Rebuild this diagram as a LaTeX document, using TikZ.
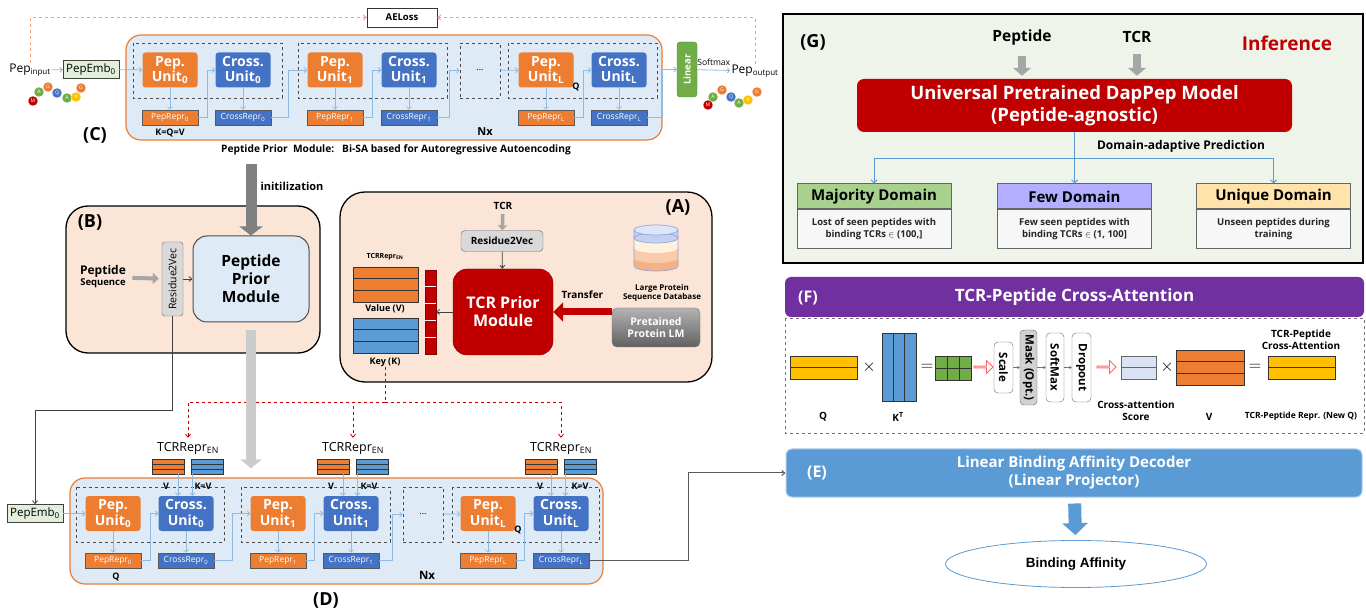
\documentclass[tikz,border=0pt]{standalone}
\usepackage{amsmath,amssymb}
\usepackage{graphicx}
\usepackage{fontspec}
\setmainfont{Open Sans}
\newfontfamily\arialfont{Liberation Sans}
\usetikzlibrary{arrows.meta,calc,positioning,shapes.arrows,shapes.geometric}
\newcommand{\fz}[2]{\fontsize{#1}{#2}\selectfont}
\newcommand{\mrows}[3][black!80]{\foreach \k in {1,...,#3}{\pgfmathsetmacro\fr{\k/(#3+1)}\draw[#1, line width=0.7pt] ($(#2.north west)!\fr!(#2.south west)$) -- ($(#2.north east)!\fr!(#2.south east)$);}}
\newcommand{\mcols}[3][black!80]{\foreach \k in {1,...,#3}{\pgfmathsetmacro\fr{\k/(#3+1)}\draw[#1, line width=0.7pt] ($(#2.north west)!\fr!(#2.north east)$) -- ($(#2.south west)!\fr!(#2.south east)$);}}
\definecolor{cOrange}{HTML}{ED7D31}
\definecolor{cBlue}{HTML}{4472C4}
\definecolor{cSky}{HTML}{5B9BD5}
\definecolor{cPale}{HTML}{DEEBF7}
\definecolor{cPeach}{HTML}{FBE5D6}
\definecolor{cFlow}{HTML}{8FBBE3}
\definecolor{cRed}{HTML}{C00000}
\definecolor{cGreen}{HTML}{70AD47}
\definecolor{cGold}{HTML}{FFC000}
\definecolor{cLeaf}{HTML}{E2EFDA}
\definecolor{cPurple}{HTML}{7030A0}
\definecolor{cLoss}{HTML}{EBA27E}
\definecolor{cGbg}{HTML}{EEF4EA}
\definecolor{cMaj}{HTML}{A9D18E}
\definecolor{cFew}{HTML}{B3AEFF}
\definecolor{cUniq}{HTML}{FFE3AA}
\definecolor{cScore}{HTML}{DAE3F3}
\definecolor{cLav}{HTML}{C5CFF3}
\definecolor{cLavD}{HTML}{8EA9DB}
\definecolor{cCream}{HTML}{FFF2DC}
\definecolor{cPch}{HTML}{F8CBAD}
\definecolor{cOr}{HTML}{F4B183}
\tikzset{
  unitbox/.style={rounded corners=3pt, minimum width=55pt, minimum height=35pt, inner sep=0pt, align=center, text=white, font=\fz{14}{15.5}\bfseries},
  pepunit/.style={unitbox, fill=cOrange},
  crossunit/.style={unitbox, fill=cBlue},
  repr/.style={minimum width=56pt, minimum height=15pt, inner sep=0pt, text=white, font=\fz{8.5}{9}, draw=black!65, line width=0.6pt},
  peprepr/.style={repr, fill=cOrange},
  crossrepr/.style={repr, fill=cBlue},
  grp/.style={draw=black!70, dashed, line width=0.6pt},
  dotbox/.style={grp, minimum width=40pt, minimum height=55pt, inner sep=0pt, font=\fz{9}{10}},
  trunk/.style={draw=cOrange, fill=cPale, line width=1.2pt, rounded corners=15pt, inner sep=0pt},
  abox/.style={draw=black, fill=cPeach, line width=1.3pt, rounded corners=22pt, inner sep=0pt},
  flow/.style={draw=cFlow, line width=0.8pt, -{Straight Barb[length=2.5pt,width=5pt]}},
  conn/.style={draw=black!75, line width=0.8pt, -{Straight Barb[length=3pt,width=5pt]}},
  loss/.style={draw=cLoss, dashed, line width=0.8pt, -{Straight Barb[length=3pt,width=5pt]}},
  rdash/.style={draw=cRed, dashed, line width=0.8pt},
  emb/.style={draw=black!75, fill=cLeaf, minimum width=56pt, minimum height=18pt, inner sep=0pt, font=\fz{11.5}{12}},
  bead/.style={circle, inner sep=0pt, minimum size=10pt, draw=white, line width=0.3pt, text=white, font=\fz{5}{5}},
  lbl/.style={font=\fz{9}{10}\bfseries, inner sep=1pt},
  panel/.style={font=\fz{18}{20}\bfseries, inner sep=0pt},
  mat/.style={draw=black!80, line width=0.7pt, inner sep=0pt, outer sep=0pt},
  smat/.style={mat, minimum width=32pt, minimum height=15pt},
  trep/.style={font=\fz{12.5}{13}, inner sep=1pt},
  grayarr/.style={line width=4pt, draw=black!35, -{Triangle[length=6pt,width=11pt]}},
  pbox/.style={draw=black!60, fill=white, rounded corners=4pt, inner sep=0pt, minimum width=19pt, font=\fz{11.5}{12}\bfseries},
  parr/.style={draw=black!55, line width=0.5pt, -{Straight Barb[length=2pt,width=3pt]}},
  hollow/.style={single arrow, draw=red!60, fill=white, line width=0.8pt, minimum height=19pt, minimum width=13pt, single arrow head extend=2.5pt, inner sep=0pt},
  dhead/.style={draw=black!60, line width=1pt, minimum width=154pt, minimum height=25pt, inner sep=0pt, font=\fz{15}{16}\bfseries},
  dbody/.style={draw=black!60, line width=1pt, fill=white!97!black, minimum width=154pt, minimum height=39pt, inner sep=0pt, align=center, font=\fz{9.5}{12}\bfseries, text=black!85},
  gflow/.style={draw=cSky, line width=1pt, -{Straight Barb[length=3pt,width=6pt]}}
}
\begin{document}
\begin{tikzpicture}[x=1pt,y=-1pt]
\useasboundingbox[fill=white] (0,0) rectangle (1366,609);

\node[trunk, minimum width=536pt, minimum height=105pt] (CBox) at (394,87.5) {};
\draw[grp] (133,43) rectangle (282,98);
\draw[grp] (298,43) rectangle (447,98);
\draw[grp] (508,43) rectangle (657,98);
\node[dotbox] (CDot) at (480,70.5) {...};
\node[pepunit] (CPU0) at (170,70) {Pep.\\Unit\textsubscript{0}};
\node[crossunit] (CCU0) at (243,70) {Cross.\\Unit\textsubscript{0}};
\node[pepunit] (CPU1) at (335,70) {Pep.\\Unit\textsubscript{1}};
\node[crossunit] (CCU1) at (409,70) {Cross.\\Unit\textsubscript{1}};
\node[pepunit] (CPUL) at (546,70) {Pep.\\Unit\textsubscript{L}};
\node[crossunit] (CCUL) at (619,70) {Cross.\\Unit\textsubscript{L}};
\node[peprepr] (CPR0) at (170,117.5) {PepRepr\textsubscript{0}};
\node[crossrepr] (CCR0) at (243,117.5) {CrossRepr\textsubscript{0}};
\node[peprepr] (CPR1) at (335,117.5) {PepRepr\textsubscript{1}};
\node[crossrepr] (CCR1) at (409,117.5) {CrossRepr\textsubscript{1}};
\node[peprepr] (CPRL) at (546,117.5) {PepRepr\textsubscript{L}};
\node[crossrepr] (CCRL) at (619,117.5) {CrossRepr\textsubscript{L}};
\node[lbl] (CKQV) at (170,133) {K=Q=V};
\node[lbl] (CQ) at (576,87) {Q};
\node[font=\fz{11}{12}\bfseries] (CNx) at (485,132) {Nx};
\node[panel] (CTag) at (95,135) {(C)};
\node[font=\fz{10.2}{12}\bfseries] (CCap) at (396,150) {Peptide Prior\ \ Module:\ \ \ Bi-SA based for Autoregressive Autoencoding};
\node[emb] (CEmb) at (91,69.5) {PepEmb\textsubscript{0}};
\node[font=\fz{12}{13}, inner sep=1pt] (CIn) at (30,70) {Pep\textsubscript{input}};
\node[bead, fill=cRed] (PI1) at (33,101) {M};
\node[bead, fill=cGreen] (PI2) at (39,92) {A};
\node[bead, fill=cOrange] (PI3) at (48,87) {G};
\node[bead, fill=cBlue] (PI4) at (57,93) {Q};
\node[bead, fill=cGreen] (PI5) at (67,98) {A};
\node[bead, fill=cGold] (PI6) at (76,97) {V};
\node[bead, fill=cOrange] (PI7) at (81,88) {G};
\node[draw=cGreen!80!black, fill=cGreen, rounded corners=3pt, minimum width=20pt, minimum height=55pt, inner sep=0pt, text=white, font=\fz{9.5}{10}\bfseries] (CLin) at (687,69.5) {\rotatebox{90}{Linear}};
\node[font=\fz{12}{13}, inner sep=1pt] (COut) at (755,71) {Pep\textsubscript{output}};
\node[bead, fill=cRed] (PO1) at (708,105) {M};
\node[bead, fill=cGreen] (PO2) at (713,97) {A};
\node[bead, fill=cOrange] (PO3) at (722,90) {G};
\node[bead, fill=cBlue] (PO4) at (731,97) {Q};
\node[bead, fill=cGreen] (PO5) at (739,103) {A};
\node[bead, fill=cGold] (PO6) at (748,100) {V};
\node[bead, fill=cOrange] (PO7) at (757,92) {G};
\node[draw=black!80, fill=white, minimum width=70pt, minimum height=19pt, inner sep=0pt, font=\fz{9.5}{11}\bfseries] (CLoss) at (402,17.5) {AELoss};
\draw[flow] (CIn) -- (CEmb);
\draw[flow] (CEmb) -- (CPU0);
\draw[flow] (CPU0) -- (CPR0);
\draw[flow] (CPR0.east) -- ++(9,0) |- (CCU0.west);
\draw[flow] (CCU0) -- (CCR0);
\draw[flow] (CCR0.east) -- ++(17,0) |- (CPU1.west);
\draw[flow] (CPU1) -- (CPR1);
\draw[flow] (CPR1.east) -- ++(9,0) |- (CCU1.west);
\draw[flow] (CCU1) -- (CCR1);
\draw[flow] (CCR1.east) -- ++(12,0) |- (CDot.west);
\draw[flow] (CDot) -- (CPUL);
\draw[flow] (CPUL) -- (CPRL);
\draw[flow] (CPRL.east) -- ++(9,0) |- (CCUL.west);
\draw[flow] (CCUL) -- (CCRL);
\draw[flow] (CCRL.east) -- ++(15,0) |- (CLin.west);
\draw[flow] (CLin) -- node[above=1pt, font=\fz{8.5}{10}, text=black] (CSoft) {Softmax} (COut);
\draw[loss] (CIn.north) |- (CLoss.west);
\draw[loss] (COut.north) |- (CLoss.east);

\node[abox, minimum width=254pt, minimum height=147pt] (BBox) at (193,279.5) {};
\node[panel] (BTag) at (90,223) {(B)};
\node[draw=black!70, fill=cPale, line width=1pt, rounded corners=14pt, minimum width=116pt, minimum height=86pt, align=center, font=\fz{15.5}{18}\bfseries] (PPM) at (251,279) {Peptide\\Prior\\Module};
\node[draw=black!60, fill=black!15, rounded corners=3pt, minimum width=21pt, minimum height=74pt, inner sep=0pt, font=\fz{10.5}{11}] (BR2V) at (172.5,279) {\rotatebox{90}{Residue2Vec}};
\node[align=center, font=\fz{12}{11}\bfseries] (BSeq) at (103,277) {Peptide\\{\fz{9.5}{10}Sequence}};
\node[font=\fz{11}{12}\bfseries] (BInit) at (292,186) {initilization};
\draw[grayarr, shorten <=3pt, shorten >=3pt] (BSeq) -- (BR2V);
\draw[conn] (BR2V) -- (PPM);
\draw[line width=11pt, draw=black!50, -{Triangle[length=9pt,width=23pt]}, shorten <=5pt] (CCap.south -| PPM.north) -- (PPM.north);

\node[abox, minimum width=372pt, minimum height=190pt, rounded corners=25pt] (ABox) at (526,287) {};
\node[panel] (ATag) at (678,207) {(A)};
\node[font=\fz{10}{12}\bfseries] (ATCR) at (503,206) {TCR};
\node[draw=black!60, fill=black!15, rounded corners=4pt, minimum width=82pt, minimum height=21pt, inner sep=0pt, font=\fz{10}{11}\bfseries] (AR2V) at (502,241) {Residue2Vec};
\node[fill=cRed, draw=cRed!70!black, rounded corners=14pt, minimum width=100pt, minimum height=86pt, align=center, text=white, font=\fz{16}{18}\bfseries] (ATPM) at (503,312) {TCR Prior\\Module};
\node[draw=black!55, top color=black!30, bottom color=black!62, rounded corners=5pt, minimum width=88pt, minimum height=39pt, align=center, text=white, font=\fz{10.5}{12.5}\bfseries] (APLM) at (656,327.5) {Pretained\\Protein LM};
\node[align=center, font=\fz{8}{9.5}\bfseries] (ADB) at (662,293) {Large Protein\\Sequence Database};
\fill[cOr] (634,258) rectangle (678,266);
\fill[cOr] (656,266) ellipse (22pt and 5pt);
\fill[cPch] (634,248) rectangle (678,258);
\fill[cPch] (656,258) ellipse (22pt and 5pt);
\fill[cCream] (634,238) rectangle (678,248);
\fill[cCream] (656,248) ellipse (22pt and 5pt);
\fill[cLav] (634,230) rectangle (678,238);
\fill[cLav] (656,238) ellipse (22pt and 5pt);
\draw[cLavD, line width=0.7pt] (656,238) ellipse (22pt and 5pt);
\draw[cLavD, line width=0.7pt] (634,230) -- (634,266) arc[start angle=180, end angle=360, x radius=22pt, y radius=5pt] -- (678,230);
\draw[cLavD, fill=cLav!55, line width=0.7pt] (656,230) ellipse (22pt and 5pt);
\node[font=\fz{7}{8}\bfseries] (ARepr) at (385,257) {TCRRepr\textsubscript{EN}};
\node[mat, fill=cOrange, minimum width=65pt, minimum height=35pt] (AVal) at (385.5,284.5) {};
\node[lbl] (AVL) at (385,309) {Value (V)};
\node[mat, fill=cSky, minimum width=65pt, minimum height=35pt] (AKey) at (385.5,335.5) {};
\node[lbl] (AKL) at (385,362) {Key (K)};
\node[mat, fill=cRed, draw=cRed!70!black, minimum width=11pt, minimum height=84pt] (AStr) at (430.5,312) {};
\mrows{AVal}{2}
\mrows{AKey}{2}
\mrows[white]{AStr}{4}
\draw[grayarr, line width=3.5pt, -{Triangle[length=5pt,width=9pt]}, shorten <=1pt] (ATCR) -- (AR2V);
\draw[conn] (AR2V) -- (ATPM);
\draw[conn] (ATPM) -- (AStr);
\draw[line width=7pt, draw=cRed, -{Triangle[length=10pt,width=19pt]}] (APLM.west |- ATPM.east) -- node[above=7pt, font=\fz{10}{12}\bfseries, text=black] (ATr) {Transfer} (ATPM.east);

\node[trunk, minimum width=533pt, minimum height=106pt] (DBox) at (336.5,531) {};
\draw[grp] (76,487) rectangle (224,542);
\draw[grp] (241,487) rectangle (390,542);
\draw[grp] (452,487) rectangle (599,542);
\node[dotbox] (DDot) at (423,514.5) {...};
\node[pepunit] (DPU0) at (113,513.5) {Pep.\\Unit\textsubscript{0}};
\node[crossunit] (DCU0) at (186,513.5) {Cross.\\Unit\textsubscript{0}};
\node[pepunit] (DPU1) at (278,513.5) {Pep.\\Unit\textsubscript{1}};
\node[crossunit] (DCU1) at (351,513.5) {Cross.\\Unit\textsubscript{1}};
\node[pepunit] (DPUL) at (488,513.5) {Pep.\\Unit\textsubscript{L}};
\node[crossunit] (DCUL) at (561,513.5) {Cross.\\Unit\textsubscript{L}};
\node[peprepr] (DPR0) at (113,560.5) {PepRepr\textsubscript{0}};
\node[crossrepr] (DCR0) at (186,560.5) {CrossRepr\textsubscript{0}};
\node[peprepr] (DPR1) at (278,560.5) {PepRepr\textsubscript{1}};
\node[crossrepr] (DCR1) at (351,560.5) {CrossRepr\textsubscript{1}};
\node[peprepr] (DPRL) at (488,560.5) {PepRepr\textsubscript{L}};
\node[crossrepr] (DCRL) at (561,560.5) {CrossRepr\textsubscript{L}};
\node[emb] (DEmb) at (35,513.5) {PepEmb\textsubscript{0}};
\node[smat, fill=cOrange] (DV0) at (168,466.5) {};
\node[smat, fill=cSky] (DK0) at (207.5,466.5) {};
\node[smat, fill=cOrange] (DV1) at (333,466.5) {};
\node[smat, fill=cSky] (DK1) at (372.5,466.5) {};
\node[smat, fill=cOrange] (DVL) at (541,466.5) {};
\node[smat, fill=cSky] (DKL) at (580.5,466.5) {};
\mrows{DV0}{2} \mrows{DK0}{2} \mrows{DV1}{2} \mrows{DK1}{2} \mrows{DVL}{2} \mrows{DKL}{2}
\node[trep] (DT0) at (188,448) {TCRRepr\textsubscript{EN}};
\node[trep] (DT1) at (353,448) {TCRRepr\textsubscript{EN}};
\node[trep] (DTL) at (561,448) {TCRRepr\textsubscript{EN}};
\node[lbl] (DVl0) at (166,486) {V};
\node[lbl] (DKl0) at (203,486) {K=V};
\node[lbl] (DVl1) at (331,486) {V};
\node[lbl] (DKl1) at (369,486) {K=V};
\node[lbl] (DVlL) at (540,486) {V};
\node[lbl] (DKlL) at (580,486) {K=V};
\node[lbl] (DQ) at (116,577) {Q};
\node[lbl] (DQL) at (518,530) {Q};
\node[font=\fz{11.5}{12}\bfseries] (DNx) at (427,575) {Nx};
\node[panel] (DTag) at (326,600) {(D)};
\draw[flow] (DEmb) -- (DPU0);
\draw[flow] (DPU0) -- (DPR0);
\draw[flow] (DPR0.east) -- ++(9,0) |- (DCU0.west);
\draw[flow] (DCU0) -- (DCR0);
\draw[flow] (DCR0.east) -- ++(18,0) |- (DPU1.west);
\draw[flow] (DPU1) -- (DPR1);
\draw[flow] (DPR1.east) -- ++(8,0) |- (DCU1.west);
\draw[flow] (DCU1) -- (DCR1);
\draw[flow] (DCR1.east) -- ++(13,0) |- (DDot.west);
\draw[flow] (DDot) -- (DPUL);
\draw[flow] (DPUL) -- (DPRL);
\draw[flow] (DPRL.east) -- ++(8,0) |- (DCUL.west);
\draw[flow] (DCUL) -- (DCRL);
\draw[flow] ([xshift=10pt]DV0.south) -- ([xshift=10pt]DV0.south |- DCU0.north);
\draw[flow] ([xshift=-15pt]DK0.south) -- ([xshift=-15pt]DK0.south |- DCU0.north);
\draw[flow] ([xshift=10pt]DV1.south) -- ([xshift=10pt]DV1.south |- DCU1.north);
\draw[flow] ([xshift=-15pt]DK1.south) -- ([xshift=-15pt]DK1.south |- DCU1.north);
\draw[flow] ([xshift=10pt]DVL.south) -- ([xshift=10pt]DVL.south |- DCUL.north);
\draw[flow] ([xshift=-15pt]DKL.south) -- ([xshift=-15pt]DKL.south |- DCUL.north);
\coordinate (RSplit) at (385,402);
\draw[rdash] (AKL.south) -- (RSplit);
\draw[rdash, -{Straight Barb[length=3pt,width=5pt]}, shorten >=3pt] (RSplit) -| (DT0.north);
\draw[rdash, -{Straight Barb[length=3pt,width=5pt]}, shorten >=3pt] (RSplit) -| (DT1.north);
\draw[rdash, -{Straight Barb[length=3pt,width=5pt]}, shorten >=3pt] (RSplit) -| (DTL.north);
\draw[conn] (BR2V.south) -- ++(0,94) -| (DEmb.north);
\draw[line width=10pt, draw=black!20, -{Triangle[length=9pt,width=21pt]}, shorten <=8pt, shorten >=9pt] (PPM.south) -- (PPM.south |- DBox.north);

\node[fill=cSky, draw=cSky!50, line width=1pt, rounded corners=6pt, minimum width=576pt, minimum height=48pt, align=center, text=white, font=\fz{15}{18}\bfseries] (EBox) at (1074,473) {Linear Binding Affinity Decoder\\(Linear Projector)};
\node[panel, text=white, font=\fz{16}{18}\bfseries] (ETag) at (817,473) {(E)};
\node[ellipse, draw=cSky, fill=white, line width=0.8pt, minimum width=261pt, minimum height=47pt, font=\arialfont\fz{13.5}{15}\bfseries] (BAff) at (1076,564) {Binding Affinity};
\draw[conn, draw=black!65, line width=1pt] (DCRL.east) -- ++(99,0) |- (EBox.west);
\draw[line width=13pt, draw=cSky, -{Triangle[length=12pt,width=25pt]}, shorten <=6pt, shorten >=5pt] (EBox) -- (BAff);

\draw[line width=1.5pt, fill=cGbg] (783,14) rectangle (1363,263);
\node[panel] (GTag) at (813,42) {(G)};
\node[font=\fz{15.5}{17}\bfseries] (GPep) at (1022,37) {Peptide};
\node[font=\fz{15.5}{17}\bfseries] (GTCR) at (1137,37) {TCR};
\node[font=\fz{19}{21}\bfseries, text=cRed] (GInf) at (1287,43) {Inference};
\node[fill=cRed, rounded corners=7pt, minimum width=435pt, minimum height=53pt, align=center, text=white, font=\fz{18.5}{22}\bfseries] (GUni) at (1074.5,105.5) {Universal Pretrained DapPep Model\\(Peptide-agnostic)};
\draw[line width=8pt, draw=black!35, -{Triangle[length=8pt,width=18pt]}, shorten <=8pt, shorten >=3pt] (GPep) -- (GPep |- GUni.north);
\draw[line width=8pt, draw=black!35, -{Triangle[length=8pt,width=18pt]}, shorten <=8pt, shorten >=3pt] (GTCR) -- (GTCR |- GUni.north);
\node[font=\fz{12}{14}\bfseries] (GDap) at (1181,146) {Domain-adaptive Prediction};
\node[dhead, fill=cMaj] (GMaj) at (874,196.5) {Majority Domain};
\node[dbody, below=0pt of GMaj] (GMajB) {Lost of seen peptides with\\binding TCRs $\in$ (100,]};
\node[dhead, fill=cFew] (GFew) at (1074.5,196.5) {Few Domain};
\node[dbody, below=0pt of GFew] (GFewB) {Few seen peptides with\\binding TCRs $\in$ (1, 100]};
\node[dhead, fill=cUniq] (GUq) at (1273.5,196.5) {Unique Domain};
\node[dbody, below=0pt of GUq] (GUqB) {Unseen peptides during\\training};
\coordinate (GSplit) at (1074.5,159);
\draw[gflow] (GUni.south) -- (GFew.north);
\draw[gflow] (GSplit) -| (GMaj.north);
\draw[gflow] (GSplit) -| (GUq.north);

\node[fill=cPurple, rounded corners=6pt, minimum width=579pt, minimum height=40pt, text=white, font=\fz{17}{19}\bfseries] (FHead) at (1074.5,297) {TCR-Peptide Cross-Attention};
\node[panel, text=white, font=\fz{16}{18}\bfseries] (FTag) at (808,298) {(F)};
\draw[black!55, dashed, line width=0.8pt] (785,318) rectangle (1364,433);
\node[mat, fill=cGold, minimum width=67pt, minimum height=23pt] (FQ) at (823.5,367.5) {};
\mrows{FQ}{1}
\node[font=\fz{18}{18}] (FX1) at (869,367) {$\times$};
\node[mat, fill=cSky, minimum width=34pt, minimum height=68pt] (FK) at (899,367) {};
\mcols{FK}{2}
\node[font=\fz{18}{18}] (FE1) at (927,367) {$=$};
\node[mat, fill=cGreen, minimum width=36pt, minimum height=24pt] (FG) at (953,368) {};
\mrows{FG}{1}
\mcols{FG}{2}
\node[hollow] (FA1) at (983,367) {};
\node[pbox, minimum height=51pt] (FS) at (1003.5,367.5) {\rotatebox{-90}{Scale}};
\node[pbox, fill=black!18, minimum width=17pt, minimum height=75pt] (FM) at (1028.5,367.5) {\rotatebox{-90}{Mask (Opt.)}};
\node[pbox, minimum width=18pt, minimum height=69pt] (FSM) at (1055,367.5) {\rotatebox{-90}{SoftMax}};
\node[pbox, minimum height=69pt] (FD) at (1081.5,367.5) {\rotatebox{-90}{Dropout}};
\draw[parr] (FS) -- (FM);
\draw[parr] (FM) -- (FSM);
\draw[parr] (FSM) -- (FD);
\node[hollow] (FA2) at (1106,367) {};
\node[mat, fill=cScore, draw=black!60, minimum width=35pt, minimum height=23pt] (FSc) at (1138.5,367.5) {};
\mrows[black!60]{FSc}{1}
\node[font=\fz{18}{18}] (FX2) at (1167,367) {$\times$};
\node[mat, fill=cOrange, minimum width=68pt, minimum height=35pt] (FV) at (1210,367.5) {};
\mrows{FV}{2}
\node[font=\fz{18}{18}] (FE2) at (1255,367) {$=$};
\node[mat, fill=cGold, minimum width=67pt, minimum height=23pt] (FR) at (1301.5,367.5) {};
\mrows{FR}{1}
\node[lbl, font=\fz{10}{12}\bfseries] (FQl) at (823,417) {Q};
\node[lbl, font=\fz{10}{12}\bfseries] (FKl) at (898,417) {K\textsuperscript{T}};
\node[lbl, font=\fz{10}{12}\bfseries, align=center] (FScl) at (1136,411) {Cross-attention\\Score};
\node[lbl, font=\fz{10}{12}\bfseries] (FVl) at (1209,417) {V};
\node[lbl, font=\fz{10}{12}\bfseries, align=center] (FRt) at (1301,340) {TCR-Peptide\\Cross-Attention};
\node[lbl, font=\fz{8.5}{10}\bfseries] (FRl) at (1301,416) {TCR-Peptide Repr. (New Q)};
\end{tikzpicture}
\end{document}
